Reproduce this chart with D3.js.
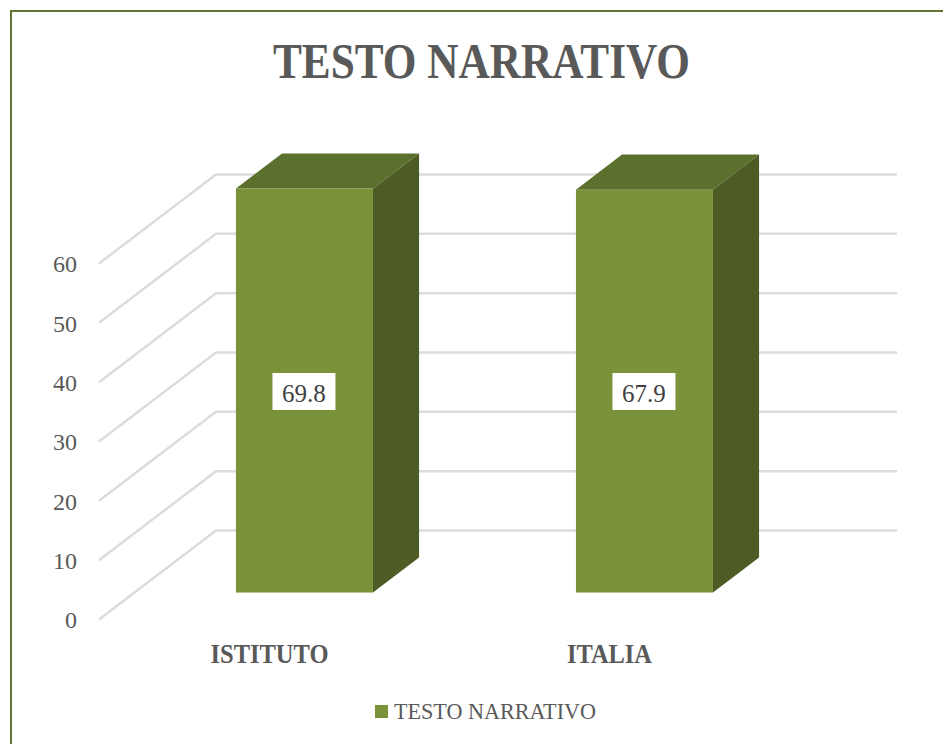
<!DOCTYPE html>
<html lang="en">
<head>
  <meta charset="UTF-8">
  <title>TESTO NARRATIVO</title>
  <style>
    html, body {
      margin: 0;
      padding: 0;
      background: #fff;
      overflow: hidden;
    }

    svg {
      display: block;
    }

    text {
      font-family: "Liberation Serif", serif;
      fill: #595959;
    }
  </style>
</head>
<body>
<div class="chart"></div>
<script src="https://d3js.org/d3.v7.min.js"></script>
<script>
  // data
  let categories = ['ISTITUTO', 'ITALIA']
  let values = [69.8, 67.9]
  let yTicks = [0, 10, 20, 30, 40, 50, 60]
  let seriesName = 'TESTO NARRATIVO'
  let chartTitle = 'TESTO NARRATIVO'

  let width = 943
  let height = 744

  // the floor runs back by depthX / depthY from the front plane to the back wall
  let depthX = 117
  let depthY = 89
  let barDepthFrom = 0.303
  let barDepthTo = 0.697
  // bars get cut at the top of the plot box, that's why both look the same height
  let plotMax = 68.1

  let svg = d3.select('.chart').append('svg').attr('width', width).attr('height', height)

  let xScale = d3.scaleBand()
    .domain(categories)
    .range([99, 779])
    .paddingInner(0.597)
    .paddingOuter(0.2985)

  let yScale = d3.scaleLinear()
    .domain([0, 60])
    .range([619.5, 263.5])

  let barHeightScale = d3.scaleLinear()
    .domain([0, plotMax])
    .range([619.5, yScale(plotMax)])
    .clamp(true)

  function px (x, depth) {
    return x + depthX * depth
  }
  function py (y, depth) {
    return y - depthY * depth
  }

  drawChart()

  function drawChart () {
    drawFrame()
    drawTitle()
    drawGrid()
    drawAxis()
    drawBars()
    drawLabels()
    drawLegend()
  }

  function drawFrame () {
    svg.append('rect')
      .attr('x', 11)
      .attr('y', 11)
      .attr('width', width + 20)
      .attr('height', height + 20)
      .attr('fill', '#fff')
      .attr('stroke', '#5f7530')
      .attr('stroke-width', 2)
  }

  function drawTitle () {
    svg.append('text')
      .attr('x', 481.5)
      .attr('y', 78)
      .attr('text-anchor', 'middle')
      .attr('textLength', 417)
      .attr('lengthAdjust', 'spacingAndGlyphs')
      .style('font-size', '50px')
      .style('font-weight', 'bold')
      .text(chartTitle)
  }

  function drawGrid () {
    let left = xScale.range()[0]
    let right = xScale.range()[1]
    let line = d3.line()
    svg.append('g').selectAll('path')
      .data(yTicks)
      .enter().append('path')
      .attr('d', (d) => {
        return line([
          [left, yScale(d)],
          [px(left, 1), py(yScale(d), 1)],
          [px(right, 1) + 1, py(yScale(d), 1)]
        ])
      })
      .attr('fill', 'none')
      .attr('stroke', '#dcdcdc')
      .attr('stroke-width', 2.5)
  }

  function drawAxis () {
    let yAxis = d3.axisLeft(yScale).tickValues(yTicks).tickSize(0).tickPadding(0)
    let gY = svg.append('g').attr('transform', 'translate(77,0.5)')
    yAxis(gY)
    gY.select('.domain').remove()
    gY.selectAll('text').attr('fill', '#595959').style('font-size', '24px').style('font-family', '"Liberation Serif", serif')

    let xAxis = d3.axisBottom(xScale).tickSize(0).tickPadding(0)
    let gX = svg.append('g').attr('transform', 'translate(0.5,644)')
    xAxis(gX)
    gX.select('.domain').remove()
    gX.selectAll('text')
      .attr('fill', '#595959')
      .attr('textLength', (d) => {
        return d === 'ISTITUTO' ? 118 : 85
      })
      .attr('lengthAdjust', 'spacingAndGlyphs')
      .style('font-size', '27px')
      .style('font-weight', 'bold')
      .style('font-family', '"Liberation Serif", serif')
  }

  function drawBars () {
    let line = d3.line()
    let bars = svg.append('g').selectAll('g')
      .data(categories)
      .enter().append('g')

    function corners (d, i) {
      let x0 = xScale(d)
      let x1 = x0 + xScale.bandwidth()
      let y0 = yScale(0)
      let y1 = barHeightScale(values[i])
      return { x0, x1, y0, y1 }
    }

    // top
    bars.append('path')
      .attr('d', (d, i) => {
        let c = corners(d, i)
        return line([
          [px(c.x0, barDepthFrom), py(c.y1, barDepthFrom)],
          [px(c.x1, barDepthFrom), py(c.y1, barDepthFrom)],
          [px(c.x1, barDepthTo), py(c.y1, barDepthTo)],
          [px(c.x0, barDepthTo), py(c.y1, barDepthTo)]
        ]) + 'Z'
      })
      .attr('fill', '#5c702e')

    // right side
    bars.append('path')
      .attr('d', (d, i) => {
        let c = corners(d, i)
        return line([
          [px(c.x1, barDepthFrom), py(c.y1, barDepthFrom)],
          [px(c.x1, barDepthTo), py(c.y1, barDepthTo)],
          [px(c.x1, barDepthTo), py(c.y0, barDepthTo)],
          [px(c.x1, barDepthFrom), py(c.y0, barDepthFrom)]
        ]) + 'Z'
      })
      .attr('fill', '#4d5c24')

    // front
    bars.append('rect')
      .attr('x', (d) => {
        return px(xScale(d), barDepthFrom)
      })
      .attr('y', (d, i) => {
        return py(corners(d, i).y1, barDepthFrom)
      })
      .attr('width', xScale.bandwidth())
      .attr('height', (d, i) => {
        let c = corners(d, i)
        return c.y0 - c.y1
      })
      .attr('fill', '#7a923a')
  }

  function drawLabels () {
    let labels = svg.append('g').selectAll('g')
      .data(categories)
      .enter().append('g')
      .attr('transform', (d) => {
        return 'translate(' + (px(xScale(d), barDepthFrom) + xScale.bandwidth() / 2 - 0.5) + ',391.5)'
      })

    labels.append('rect')
      .attr('x', -31.5)
      .attr('y', -18.5)
      .attr('width', 63)
      .attr('height', 37)
      .attr('fill', '#fff')

    labels.append('text')
      .attr('text-anchor', 'middle')
      .attr('dy', '0.4em')
      .style('font-size', '25px')
      .style('fill', '#404040')
      .text((d, i) => {
        return values[i]
      })
  }

  function drawLegend () {
    svg.append('rect')
      .attr('x', 375)
      .attr('y', 705)
      .attr('width', 13)
      .attr('height', 13)
      .attr('fill', '#7a923a')

    svg.append('text')
      .attr('x', 394)
      .attr('y', 719)
      .attr('textLength', 202)
      .attr('lengthAdjust', 'spacingAndGlyphs')
      .style('font-size', '23px')
      .text(seriesName)
  }
</script>
</body>
</html>
